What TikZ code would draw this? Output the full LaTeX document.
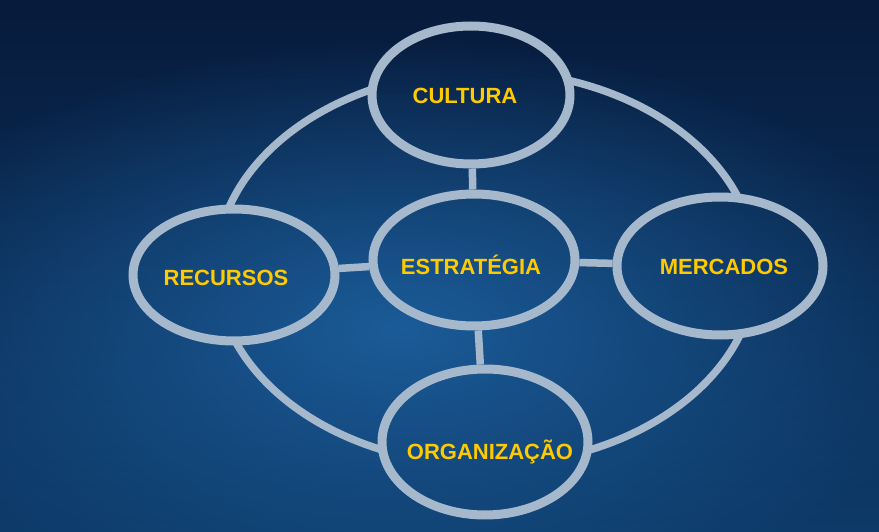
\documentclass[tikz,border=0pt]{standalone}
\usepackage{fontspec}
\setmainfont{Liberation Sans}
\usetikzlibrary{shapes.geometric,fadings}
\definecolor{chalk}{RGB}{166,184,204}
\definecolor{bgdark}{RGB}{7,27,60}
\definecolor{bglow}{RGB}{13,58,104}
\definecolor{bgglow}{RGB}{28,94,156}
\definecolor{gold}{RGB}{255,202,0}
\tikzfading[name=glow, inner color=transparent!5, outer color=transparent!100]

\begin{document}
\begin{tikzpicture}[x=1pt,y=-1pt]
\tikzstyle{bubble}=[ellipse, draw=chalk, line width=9pt, inner sep=0pt]
\tikzstyle{word}=[text=gold, font=\fontsize{22}{22}\selectfont\bfseries, inner sep=0pt]
\tikzstyle{chalkline}=[draw=chalk, line width=7.5pt]
\useasboundingbox (0,0) rectangle (879,532);
% blackboard
\shade[top color=bgdark, bottom color=bglow] (0,0) rectangle (879,532);
\fill[bgglow, path fading=glow] (400,330) ellipse [x radius=560, y radius=290];
% the five ellipses
\node[bubble, minimum width=198pt, minimum height=138pt] (c) at (471,95) {};
\node[bubble, minimum width=202pt, minimum height=132pt] (e) at (474,260) {};
\node[bubble, minimum width=202pt, minimum height=132pt] (r) at (234,275) {};
\node[bubble, minimum width=206pt, minimum height=138pt] (m) at (720,266) {};
\node[bubble, minimum width=206pt, minimum height=146pt] (o) at (485,442) {};
\node[word] (ct) at (465,96) {CULTURA};
\node[word] (et) at (471,265) {ESTRATÉGIA};
\node[word] (rt) at (226,278) {RECURSOS};
\node[word] (mt) at (724,267) {MERCADOS};
\node[word] (ot) at (490,452) {ORGANIZAÇÃO};
% big ring, kept out of the ellipses
\coordinate (ring) at (486,268);
\begin{scope}[even odd rule]
\clip (0,0) rectangle (879,532)
  (c.center) ellipse [x radius=99, y radius=69]
  (r.center) ellipse [x radius=101, y radius=66]
  (m.center) ellipse [x radius=103, y radius=69]
  (o.center) ellipse [x radius=103, y radius=73];
\draw[chalkline] (ring) ellipse [x radius=270, y radius=197];
\end{scope}
% spokes
\draw[chalkline] (c) -- (e);
\draw[chalkline] (r) -- (e);
\draw[chalkline] (m) -- (e);
\draw[chalkline] (o) -- (e);
\end{tikzpicture}
\end{document}
